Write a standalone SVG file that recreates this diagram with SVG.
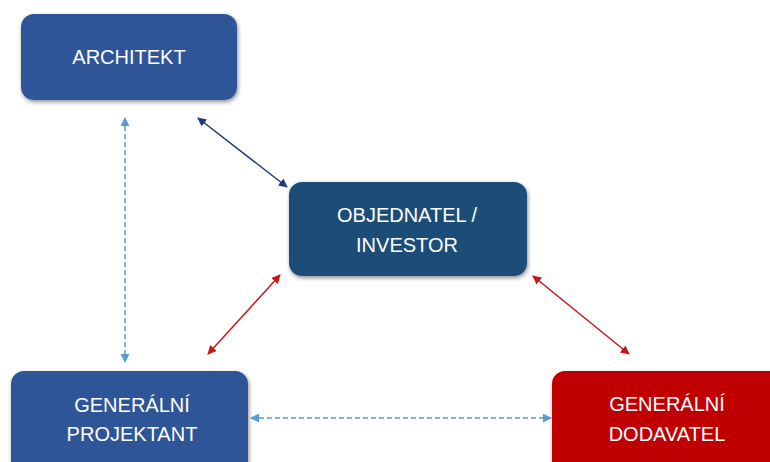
<svg xmlns="http://www.w3.org/2000/svg" width="770" height="462" viewBox="0 0 770 462">
<defs>
<filter id="sh" x="-10%" y="-10%" width="125%" height="130%">
<feGaussianBlur in="SourceAlpha" stdDeviation="2"/>
<feOffset dx="1" dy="2" result="b"/>
<feComponentTransfer><feFuncA type="linear" slope="0.45"/></feComponentTransfer>
<feMerge><feMergeNode/><feMergeNode in="SourceGraphic"/></feMerge>
</filter>
<marker id="mNavy" viewBox="0 0 10 10" refX="9" refY="5" markerWidth="9" markerHeight="9" markerUnits="userSpaceOnUse" orient="auto-start-reverse"><path d="M0,0 L10,5 L0,10 Z" fill="#1F3A78"/></marker>
<marker id="mRed" viewBox="0 0 10 10" refX="9" refY="5" markerWidth="9" markerHeight="9" markerUnits="userSpaceOnUse" orient="auto-start-reverse"><path d="M0,0 L10,5 L0,10 Z" fill="#C8161D"/></marker>
<marker id="mBlue" viewBox="0 0 10 10" refX="9" refY="5" markerWidth="9" markerHeight="9" markerUnits="userSpaceOnUse" orient="auto-start-reverse"><path d="M0,0 L10,5 L0,10 Z" fill="#5B9BD5"/></marker>
</defs>
<style>
.box{filter:url(#sh)}
.t{font-family:"Liberation Sans",Arial,sans-serif;font-size:20px;fill:#FFFFFF;text-anchor:middle}
.navy{stroke:#1F3A78;stroke-width:1.5;fill:none;marker-start:url(#mNavy);marker-end:url(#mNavy)}
.red{stroke:#C8161D;stroke-width:1.5;fill:none;marker-start:url(#mRed);marker-end:url(#mRed)}
.dash{stroke:#5B9BD5;stroke-width:1.5;fill:none;stroke-dasharray:5 3;marker-start:url(#mBlue);marker-end:url(#mBlue)}
</style>
<rect width="770" height="462" fill="#FFFFFF"/>
<g id="connectors">
<line class="dash" x1="125" y1="118" x2="125" y2="362"/>
<line class="navy" x1="198" y1="118" x2="287" y2="187"/>
<line class="red" x1="280" y1="275" x2="208" y2="354"/>
<line class="red" x1="533" y1="276" x2="629" y2="354"/>
<line class="dash" x1="251" y1="418" x2="551" y2="418"/>
</g>
<g id="architekt">
<rect class="box" x="21" y="14" width="216" height="86" rx="13" fill="#2F5597"/>
<text class="t" x="129" y="64">ARCHITEKT</text>
</g>
<g id="objednatel">
<rect class="box" x="289" y="182" width="238" height="94" rx="13" fill="#1F4E79"/>
<text class="t" x="407" y="222">OBJEDNATEL /</text>
<text class="t" x="407" y="252">INVESTOR</text>
</g>
<g id="projektant">
<rect class="box" x="11" y="371" width="237" height="110" rx="13" fill="#2F5597"/>
<text class="t" x="132" y="412">GENERÁLNÍ</text>
<text class="t" x="132" y="441">PROJEKTANT</text>
</g>
<g id="dodavatel">
<rect class="box" x="552" y="371" width="240" height="110" rx="13" fill="#C00000"/>
<text class="t" x="667" y="411">GENERÁLNÍ</text>
<text class="t" x="667" y="441">DODAVATEL</text>
</g>
</svg>
